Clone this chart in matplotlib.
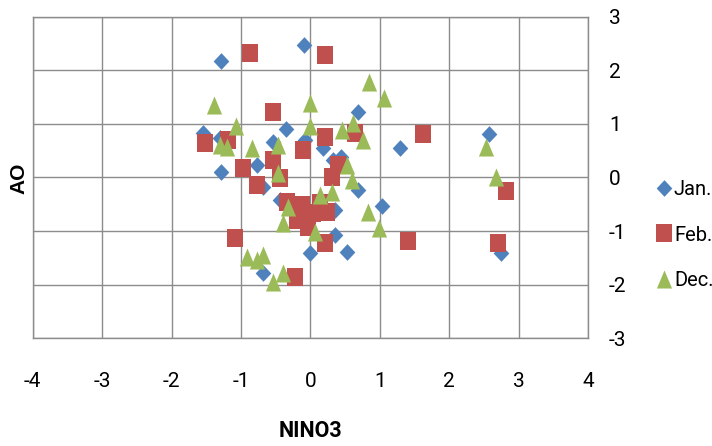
import matplotlib
matplotlib.use("Agg")
import matplotlib.pyplot as plt

plt.rcParams["axes.unicode_minus"] = False

# NINO3 / AO values
jan_x = [-1.29, -0.09, -1.55, -1.29, -0.77, -0.35, -0.54, 0.18, 0.32, -0.68, -0.44, 0.35,
         0.68, 1.29, 2.57, 0.68, 1.03, 2.74, 0.52, -0.68, 0.00, 0.35, -1.30, -0.08, 0.44]
jan_y = [2.17, 2.47, 0.83, 0.10, 0.23, 0.90, 0.66, 0.55, 0.33, -0.17, -0.42, -0.61,
         1.22, 0.55, 0.81, -0.23, -0.53, -1.41, -1.39, -1.78, -1.41, -1.07, 0.74, 0.70, 0.38]

feb_x = [-0.87, 0.21, -0.54, -1.52, -1.19, -0.97, -0.77, -0.54, -0.44, -0.11, 0.21, 0.64,
         1.62, 0.31, 0.40, -0.34, -0.12, 0.14, 0.24, -0.19, -0.04, 0.21, 0.04, 1.40,
         2.70, 2.81, -1.09, -0.22]
feb_y = [2.32, 2.29, 1.22, 0.64, 0.70, 0.18, -0.14, 0.33, -0.01, 0.51, 0.76, 0.83,
         0.81, 0.01, 0.23, -0.46, -0.51, -0.48, -0.64, -0.79, -0.92, -1.23, -0.66, -1.18,
         -1.23, -0.25, -1.13, -1.86]

dec_x = [-1.39, -1.07, -1.30, -1.20, -0.84, -0.47, 0.00, 0.00, -0.47, 0.45, 0.61, 0.52,
         0.60, 0.84, 1.06, 0.75, 2.53, 2.67, 0.83, 0.99, -0.32, -0.40, 0.07, 0.14,
         0.31, -0.91, -0.77, -0.68, -0.54, -0.40]
dec_y = [1.35, 0.96, 0.61, 0.57, 0.55, 0.61, 1.39, 0.96, 0.08, 0.89, 1.02, 0.23,
         -0.05, 1.78, 1.48, 0.70, 0.57, 0.01, -0.64, -0.94, -0.55, -0.85, -1.01, -0.33,
         -0.27, -1.48, -1.54, -1.45, -1.95, -1.78]

x_ticks = [-4, -3, -2, -1, 0, 1, 2, 3, 4]
y_ticks = [-3, -2, -1, 0, 1, 2, 3]

narrow = ["Roboto", "DejaVu Sans"]

# slightly tall marker shapes, like the stretched original
diamond = [(0, 0.5), (0.47, 0), (0, -0.5), (-0.47, 0), (0, 0.5)]
square = [(-0.45, -0.5), (0.45, -0.5), (0.45, 0.5), (-0.45, 0.5), (-0.45, -0.5)]
triangle = [(0, 0.5), (-0.42, -0.5), (0.42, -0.5), (0, 0.5)]

fig = plt.figure(figsize=(7.12, 4.46), dpi=100)
ax = fig.add_axes([0.0459, 0.2415, 0.7803, 0.7211])

ax.plot(jan_x, jan_y, linestyle="none", marker=diamond, ms=12, color="#4F81BD",
        mew=0, label="Jan.", zorder=3)
ax.plot(feb_x, feb_y, linestyle="none", marker=square, ms=13, color="#C0504D",
        mew=0, label="Feb.", zorder=4)
ax.plot(dec_x, dec_y, linestyle="none", marker=triangle, ms=13, color="#9BBB59",
        mew=0, label="Dec.", zorder=5)

ax.set_xlim(-4, 4)
ax.set_ylim(-3, 3)
ax.set_xticks(x_ticks)
ax.set_yticks(y_ticks)
ax.grid(True, color="#8C8C8C", linewidth=1.0)
ax.set_axisbelow(True)
for s in ax.spines.values():
    s.set_color("#8C8C8C")
    s.set_linewidth(1.0)

ax.yaxis.tick_right()
ax.tick_params(axis="both", length=0, labelsize=15, labelcolor="black")
ax.tick_params(axis="y", pad=15)
ax.tick_params(axis="x", pad=24)
for lab in ax.get_xticklabels() + ax.get_yticklabels():
    lab.set_family(narrow)
for lab in ax.get_yticklabels():
    lab.set_horizontalalignment("left")

ax.set_xlabel("NINO3", fontsize=15.5, fontweight="bold", family=narrow, labelpad=21)
fig.text(0.026, 0.60, "AO", rotation=90, fontsize=15, fontweight="bold",
         family=["Liberation Sans", "DejaVu Sans"], ha="center", va="center")

fig.legend(loc="center left", bbox_to_anchor=(0.921, 0.473), frameon=False,
           borderaxespad=0, borderpad=0, handlelength=0.8, handletextpad=0.1,
           labelspacing=1.3, prop={"family": narrow, "size": 14.5})

fig.savefig("out.png", dpi=100)
